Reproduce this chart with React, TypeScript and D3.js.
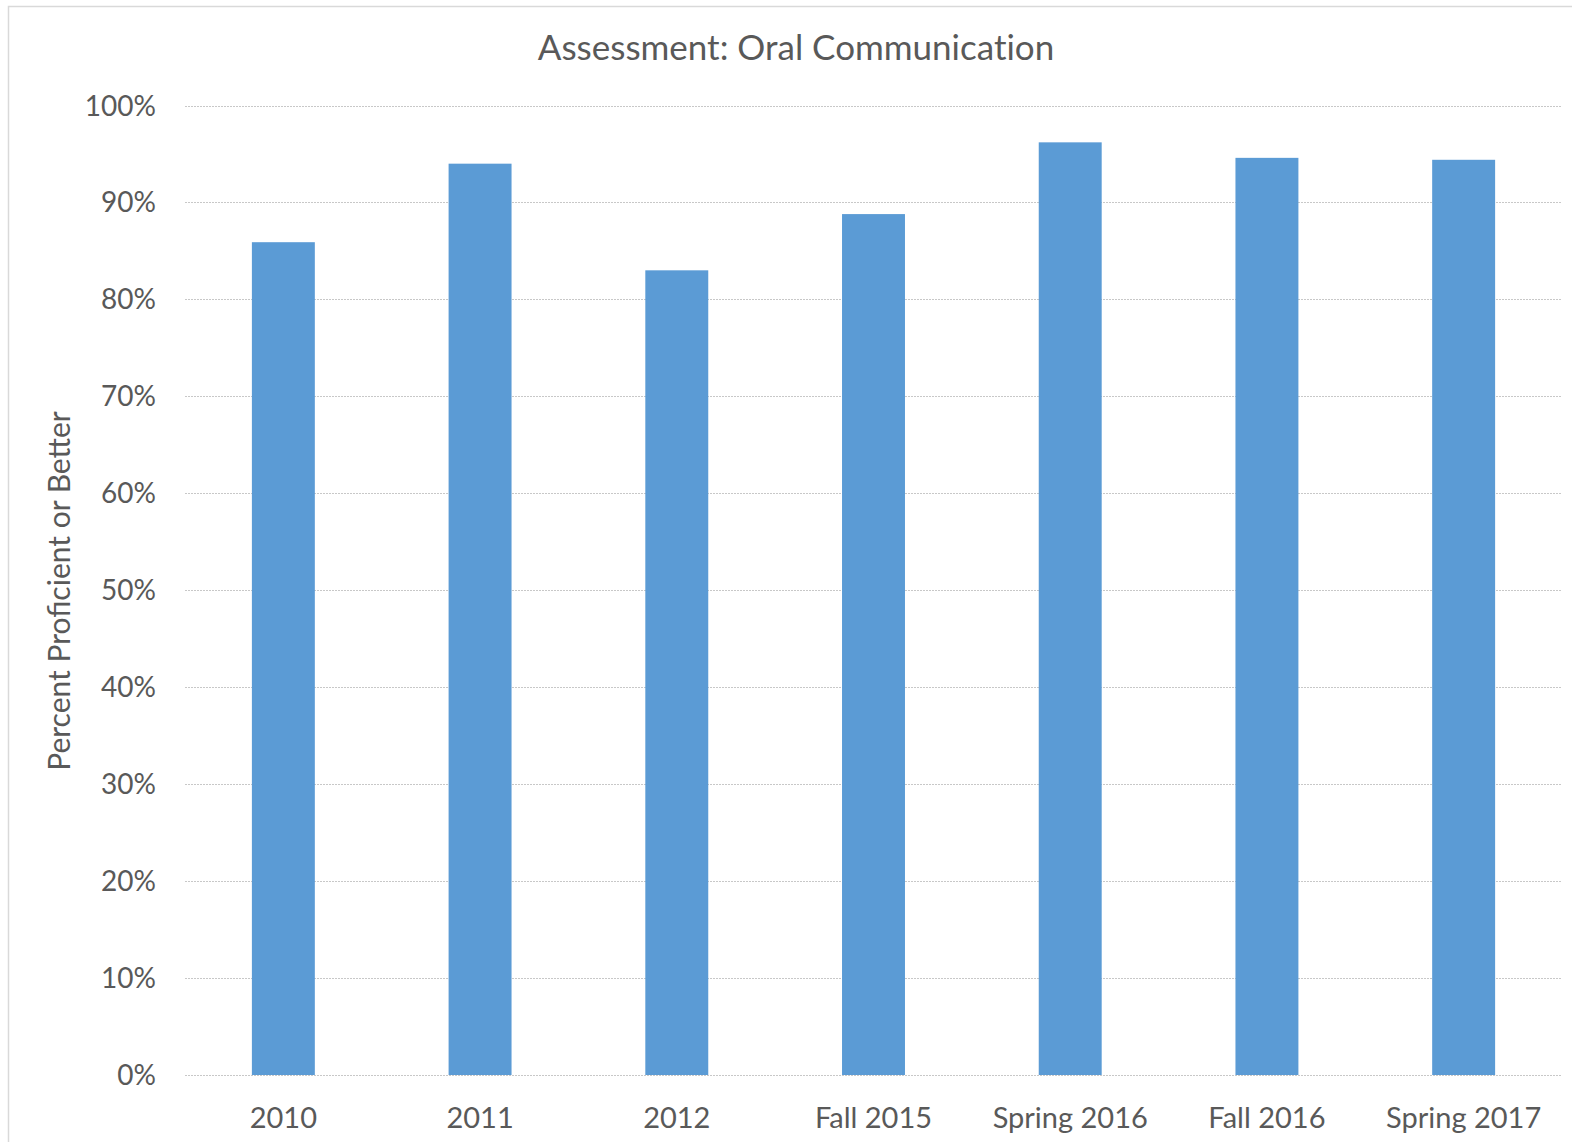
import { useEffect, useRef } from "react";
import * as d3 from "d3";

const categories = ["2010", "2011", "2012", "Fall 2015", "Spring 2016", "Fall 2016", "Spring 2017"];
const values = [0.859, 0.94, 0.83, 0.888, 0.962, 0.946, 0.944];
const yTicks = [0, 0.1, 0.2, 0.3, 0.4, 0.5, 0.6, 0.7, 0.8, 0.9, 1.0];

const W = 1572, H = 1142;
const FONT = "Lato, 'Open Sans', sans-serif";
const TEXT = "#595959";

const App = () => {
  const svgRef = useRef<SVGSVGElement>(null);

  useEffect(() => {
    document.body.style.margin = "0";
    document.body.style.overflow = "hidden";
    if (!svgRef.current) return;
    const svg = d3.select(svgRef.current);
    svg.selectAll("*").remove();

    const m = { left: 185, right: 1562, top: 105.5, bottom: 1075 };
    const x = d3.scaleBand().domain(categories).range([m.left, m.right]).paddingInner(0.68).paddingOuter(0.34);
    const y = d3.scaleLinear().domain([0, 1]).range([m.bottom, m.top]);

    svg.append("rect")
      .attr("x", 8.5).attr("y", 6.5).attr("width", W).attr("height", H)
      .attr("fill", "#fff").attr("stroke", "#d9d9d9").attr("stroke-width", 1.5);

    svg.append("text")
      .attr("x", 796).attr("y", 60)
      .attr("text-anchor", "middle")
      .attr("font-family", FONT).attr("font-size", "35px").attr("fill", TEXT)
      .style("font-variant-ligatures", "none")
      .text("Assessment: Oral Communication");

    const grid = svg.append("g");
    grid.selectAll("line")
      .data(yTicks)
      .join("line")
      .attr("x1", m.left).attr("x2", m.right)
      .attr("y1", d => Math.round(y(d)) + 0.5).attr("y2", d => Math.round(y(d)) + 0.5)
      .attr("stroke", "#c8c8c8").attr("stroke-width", 1)
      .attr("stroke-dasharray", "2,1");

    svg.append("g").selectAll("text")
      .data(yTicks)
      .join("text")
      .attr("x", 156).attr("y", d => y(d) + 10)
      .attr("text-anchor", "end")
      .attr("font-family", FONT).attr("font-size", "28px").attr("fill", TEXT)
      .text(d => d3.format(".0%")(d));

    svg.append("g").selectAll("rect")
      .data(values)
      .join("rect")
      .attr("x", (_, i) => x(categories[i])!)
      .attr("y", d => y(d))
      .attr("width", x.bandwidth())
      .attr("height", d => y(0) - y(d))
      .attr("fill", "#5B9BD5");

    svg.append("g").selectAll("text")
      .data(categories)
      .join("text")
      .attr("x", d => x(d)! + x.bandwidth() / 2)
      .attr("y", 1128)
      .attr("text-anchor", "middle")
      .attr("font-family", FONT).attr("font-size", "29px").attr("fill", TEXT)
      .text(d => d);

    svg.append("text")
      .attr("transform", "translate(70,591) rotate(-90)")
      .attr("text-anchor", "middle")
      .attr("font-family", FONT).attr("font-size", "30px").attr("fill", TEXT)
      .text("Percent Proficient or Better");
  }, []);

  return <svg ref={svgRef} width={W} height={H} style={{ display: "block" }} />;
};

export default App;
